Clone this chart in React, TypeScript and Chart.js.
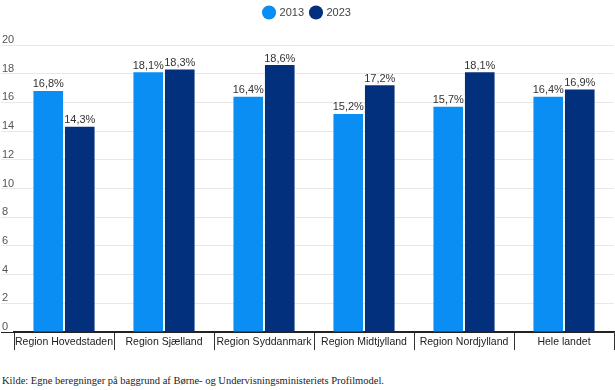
import React, { useEffect, useRef } from "react";
import { Chart, registerables } from "chart.js";

Chart.register(...registerables);

const categories = [
  "Region Hovedstaden",
  "Region Sjælland",
  "Region Syddanmark",
  "Region Midtjylland",
  "Region Nordjylland",
  "Hele landet",
];
const values2013 = [16.8, 18.1, 16.4, 15.2, 15.7, 16.4];
const values2023 = [14.3, 18.3, 18.6, 17.2, 18.1, 16.9];
const seriesNames = ["2013", "2023"];
const sourceText =
  "Kilde: Egne beregninger på baggrund af Børne- og Undervisningsministeriets Profilmodel.";

const valueLabels = {
  id: "valueLabels",
  afterDatasetsDraw(chart: any) {
    const ctx = chart.ctx;
    ctx.save();
    ctx.font = "11px Arial";
    ctx.fillStyle = "#333333";
    ctx.textAlign = "center";
    ctx.textBaseline = "bottom";
    chart.data.datasets.forEach((ds: any, i: number) => {
      const meta = chart.getDatasetMeta(i);
      meta.data.forEach((el: any, j: number) => {
        const v = ds.data[j] as number;
        ctx.fillText(v.toFixed(1).replace(".", ",") + "%", el.x, el.y - 1);
      });
    });
    ctx.restore();
  },
};

const legendSpacing = {
  id: "legendSpacing",
  beforeInit(chart: any) {
    const legend = chart.legend;
    if (!legend) return;
    const origFit = legend.fit;
    legend.fit = function () {
      origFit.call(this);
      this.height += 17;
    };
  },
};

export default function App() {
  const ref = useRef<HTMLCanvasElement | null>(null);
  useEffect(() => {
    if (!ref.current) return;
    const chart = new Chart(ref.current, {
      type: "bar",
      data: {
        labels: categories,
        datasets: [
          {
            label: seriesNames[0],
            data: values2013,
            backgroundColor: "#0b8ef3",
            borderWidth: 0,
            barPercentage: 0.94,
            categoryPercentage: 0.63,
          },
          {
            label: seriesNames[1],
            data: values2023,
            backgroundColor: "#03307c",
            borderWidth: 0,
            barPercentage: 0.94,
            categoryPercentage: 0.63,
          },
        ],
      },
      options: {
        animation: false,
        responsive: false,
        maintainAspectRatio: false,
        layout: { padding: { left: 1, right: 1, top: 0, bottom: 2 } },
        plugins: {
          legend: {
            position: "top",
            labels: {
              usePointStyle: true,
              pointStyle: "circle",
              boxWidth: 10,
              boxHeight: 10,
              font: { family: "Arial", size: 11 },
              color: "#444444",
              padding: 7,
            },
          },
          tooltip: { enabled: false },
        },
        scales: {
          x: {
            offset: true,
            afterFit: (s: any) => {
              s.height = 18;
            },
            grid: {
              offset: true,
              drawOnChartArea: false,
              drawTicks: true,
              tickLength: 18,
              tickColor: "#333333",
              lineWidth: 1,
            },
            border: { display: true, color: "#222222", width: 1.5 },
            ticks: {
              mirror: true,
              font: { family: "Arial", size: 10.5 },
              color: "#222222",
              padding: -16.5,
              maxRotation: 0,
              autoSkip: false,
            },
          },
          y: {
            min: 0,
            max: 20,
            afterFit: (s: any) => {
              s.width = 13;
            },
            ticks: {
              stepSize: 2,
              mirror: true,
              font: { family: "Arial", size: 11 },
              color: "#555555",
              padding: -12,
              labelOffset: -5,
            },
            grid: {
              color: (c: any) => (c.tick && c.tick.value === 0 ? "#222222" : "#e8e8e8"),
              tickColor: (c: any) => (c.tick && c.tick.value === 0 ? "#222222" : "#e8e8e8"),
              tickLength: 13,
            },
            border: { display: false },
          },
        },
      },
      plugins: [valueLabels, legendSpacing],
    });
    return () => chart.destroy();
  }, []);

  return (
    <div style={{ position: "fixed", left: 0, top: 0, width: 615, height: 390, background: "#fff" }}>
      <canvas ref={ref} width={615} height={352} style={{ display: "block" }} />
      <div
        style={{
          position: "absolute",
          left: 2,
          top: 375,
          fontFamily: "'Liberation Serif', 'Times New Roman', serif",
          fontSize: 10.5,
          color: "#222",
          lineHeight: "12px",
          whiteSpace: "nowrap",
        }}
      >
        {sourceText}
      </div>
    </div>
  );
}
